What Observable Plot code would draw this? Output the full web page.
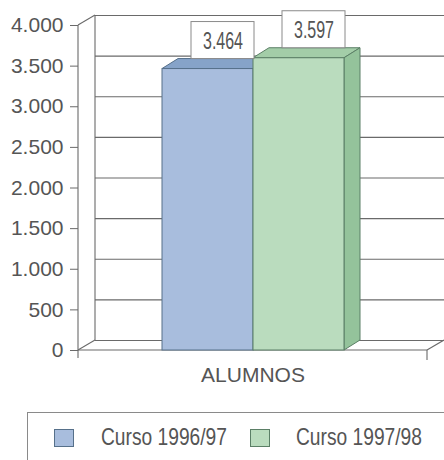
<!DOCTYPE html>
<html>
<head>
<meta charset="utf-8">
<script src="https://cdn.jsdelivr.net/npm/d3@7"></script>
<script src="https://cdn.jsdelivr.net/npm/@observablehq/plot@0.6"></script>
<style>
  html, body { margin: 0; padding: 0; background: #fff; overflow: hidden; }
  #wrap { position: relative; width: 444px; height: 460px; overflow: hidden; }
  #legend { position: absolute; left: 27px; top: 412px; width: 440px; height: 70px;
            border: 1px solid #8a8a8a; box-sizing: border-box; }
  .sw { position: absolute; top: 16px; width: 20px; height: 18px; box-sizing: border-box; }
  .lt { position: absolute; top: 10px; white-space: nowrap; transform: scaleX(0.8); transform-origin: 0 0;
        font-family: "Liberation Sans", Arial, sans-serif; font-size: 24px; line-height: 28px; color: #555; }
</style>
</head>
<body>
<div id="wrap"><div id="chart"></div><div id="legend"></div></div>
<script>
// ---- data ----
const series = ["Curso 1996/97", "Curso 1997/98"];
const values = [3464, 3597];
const valueLabels = ["3.464", "3.597"];
const category = "ALUMNOS";
const yTicks = [0, 500, 1000, 1500, 2000, 2500, 3000, 3500, 4000];
const yTickLabels = ["0", "500", "1.000", "1.500", "2.000", "2.500", "3.000", "3.500", "4.000"];
const fronts = ["#a8bddd", "#badcbe"];
const tops = ["#86a3c9", "#a3cda8"];
const sides = ["#7f9cc2", "#94c39b"];
const edges = ["#56708a", "#5b7f66"];

const data = series.map((s, i) => ({serie: s, value: values[i], label: valueLabels[i], i}));

// depth offsets for the pseudo-3D look
const WDX = 17, WDY = -10;   // wall depth
const BDX = 16, BDY = -10;   // bar depth

function walls(index, scales, values, dims) {
  const {y} = scales;
  const L = dims.marginLeft, R = dims.width - dims.marginRight;
  const y0 = y(yTicks[0]), yT = y(yTicks[yTicks.length - 1]);
  const g = d3.create("svg:g").attr("fill", "none").attr("stroke", "#6a6a6a").attr("stroke-width", 1.1);
  const seg = (a, b, c, d) => g.append("line").attr("x1", a).attr("y1", b).attr("x2", c).attr("y2", d);
  seg(L + WDX, y0 + WDY, L + WDX, yT + WDY);      // back wall left edge
  seg(L, yT, L + WDX, yT + WDY);                  // top diagonal
  seg(L, y0, L + WDX, y0 + WDY);                  // floor left diagonal
  seg(R, y0, R + WDX, y0 + WDY);                  // floor right diagonal
  seg(L, y0, R, y0);                              // floor front edge
  seg(L, y0, L, yT);                              // y axis line
  seg(L, y0, L, y0 + 8);                          // category boundary ticks
  seg(R, y0, R, y0 + 10);
  return g.node();
}

function barFaces(index, scales, values, dims) {
  const {x, y} = scales;
  const bw = x.bandwidth();
  const g = d3.create("svg:g").attr("stroke-width", 1);
  data.forEach(d => {
    const x0 = x(d.serie), x1 = x0 + bw, yt = y(d.value), yb = y(0);
    g.append("polygon")
      .attr("points", [[x0, yt], [x1, yt], [x1 + BDX, yt + BDY], [x0 + BDX, yt + BDY]].join(" "))
      .attr("fill", tops[d.i]).attr("stroke", edges[d.i]);
    g.append("polygon")
      .attr("points", [[x1, yt], [x1 + BDX, yt + BDY], [x1 + BDX, yb + BDY], [x1, yb]].join(" "))
      .attr("fill", sides[d.i]).attr("stroke", edges[d.i]);
  });
  return g.node();
}

const chart = Plot.plot({
  width: 444,
  height: 400,
  marginLeft: 78,
  marginRight: 17,
  marginTop: 25,
  marginBottom: 50,
  style: {fontFamily: '"Liberation Sans", Arial, sans-serif', fontSize: "21px", color: "#555", background: "white"},
  x: {type: "band", domain: series, paddingInner: 0, paddingOuter: 0.9, axis: null},
  y: {domain: [0, 4000], axis: null},
  marks: [
    Plot.ruleY(yTicks, {dx: WDX, dy: WDY, stroke: "#6a6a6a", strokeWidth: 1.1}),
    walls,
    Plot.axisY(yTicks, {tickFormat: (d) => yTickLabels[yTicks.indexOf(d)], tickSize: 8, tickPadding: 7,
                        fontSize: 21, stroke: "#6a6a6a", fill: "#555", label: null}),
    barFaces,
    Plot.barY(data, {x: "serie", y: "value", fill: (d) => fronts[d.i], stroke: (d) => edges[d.i], strokeWidth: 1}),
    Plot.barY(data, {x: "serie", y1: "value", y2: "value", insetTop: -37, insetLeft: 13, insetRight: 15,
                     dx: BDX, dy: BDY, fill: "white", stroke: "#8a8a8a", strokeWidth: 1}),
    Plot.text(data, {x: "serie", y: "value", text: "label", dx: BDX - 1, dy: BDY - 17.5,
                     fontSize: 23, fill: "#555"}),
    Plot.text([category], {frameAnchor: "bottom", lineAnchor: "bottom", dy: 31, fontSize: 21, fill: "#555"})
  ]
});
document.getElementById("chart").appendChild(chart);
// condensed look of the value labels
d3.select(chart).selectAll("text")
  .filter(function () { return valueLabels.includes(this.textContent); })
  .attr("textLength", 40).attr("lengthAdjust", "spacingAndGlyphs");

// legend
const legend = document.getElementById("legend");
const swLefts = [26, 222];
const txLefts = [73, 268];
series.forEach((s, i) => {
  const sw = document.createElement("div");
  sw.className = "sw";
  sw.style.left = swLefts[i] + "px";
  sw.style.background = fronts[i];
  sw.style.border = "1px solid " + edges[i];
  legend.appendChild(sw);
  const t = document.createElement("div");
  t.className = "lt";
  t.style.left = txLefts[i] + "px";
  t.textContent = s;
  legend.appendChild(t);
});
</script>
</body>
</html>
